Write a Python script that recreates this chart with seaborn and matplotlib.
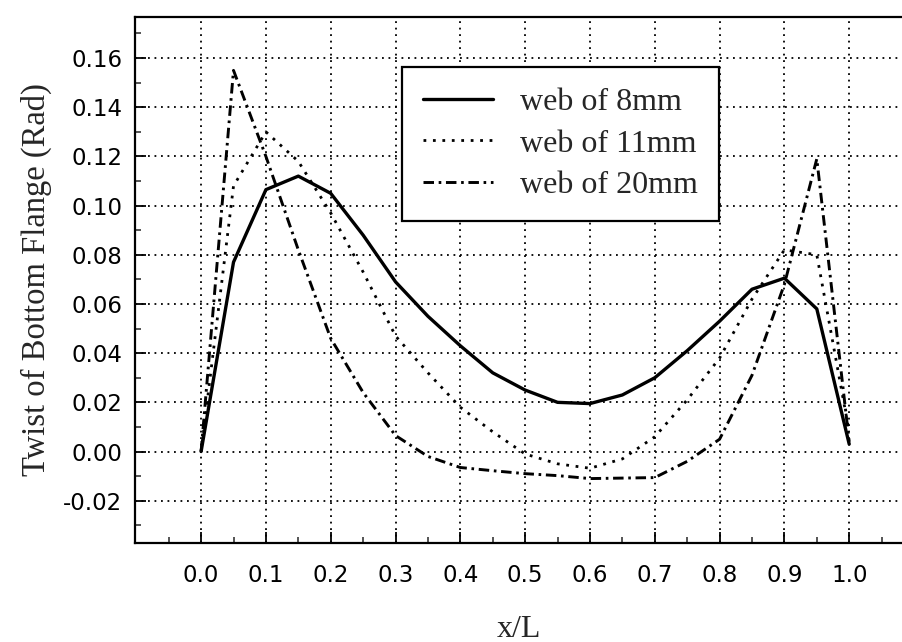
import numpy as np
import pandas as pd
import matplotlib
matplotlib.use("Agg")
import matplotlib.pyplot as plt
import seaborn as sns
from matplotlib.ticker import FixedLocator

# ---- data ----
x_over_L = [0.0, 0.05, 0.10, 0.15, 0.20, 0.25, 0.30, 0.35, 0.40, 0.45, 0.50,
            0.55, 0.60, 0.65, 0.70, 0.75, 0.80, 0.85, 0.90, 0.95, 1.00]
web_8mm = [0.0, 0.077, 0.1065, 0.112, 0.105, 0.088, 0.069, 0.055, 0.043, 0.032, 0.025,
           0.020, 0.0195, 0.023, 0.030, 0.041, 0.053, 0.066, 0.0705, 0.058, 0.003]
web_11mm = [0.0, 0.108, 0.130, 0.118, 0.097, 0.073, 0.047, 0.032, 0.018, 0.008, -0.001,
            -0.005, -0.0068, -0.003, 0.006, 0.021, 0.038, 0.062, 0.082, 0.080, 0.008]
web_20mm = [0.0, 0.155, 0.120, 0.082, 0.046, 0.024, 0.0065, -0.002, -0.0065, -0.0078, -0.009,
            -0.0098, -0.011, -0.0108, -0.0106, -0.004, 0.005, 0.031, 0.068, 0.119, 0.004]
series_names = ["web of 8mm", "web of 11mm", "web of 20mm"]
x_ticks = [0.0, 0.1, 0.2, 0.3, 0.4, 0.5, 0.6, 0.7, 0.8, 0.9, 1.0]
y_ticks = [-0.02, 0.00, 0.02, 0.04, 0.06, 0.08, 0.10, 0.12, 0.14, 0.16]

df = pd.concat([
    pd.DataFrame({"x": x_over_L, "y": vals, "series": name})
    for name, vals in zip(series_names, [web_8mm, web_11mm, web_20mm])
], ignore_index=True)

sns.set_style("white")
plt.rcParams["font.family"] = ["DejaVu Sans"]

fig = plt.figure(figsize=(9.03, 6.42), dpi=100)
ax = fig.add_axes([0.1495, 0.1542, 0.8505, 0.8193])

dashes = {"web of 8mm": "", "web of 11mm": (1, 2.4), "web of 20mm": (3.6, 1.6, 0.9, 1.6)}
widths = {"web of 8mm": 2.4, "web of 11mm": 2.0, "web of 20mm": 2.1}
sns.lineplot(data=df, x="x", y="y", style="series", style_order=series_names,
             dashes=dashes, color="black", linewidth=2.0, ax=ax, sort=False)

for line, name in zip(ax.get_lines()[:3], series_names):
    line.set_linewidth(widths[name])

ax.set_xlim(-0.102, 1.083)
ax.set_ylim(-0.0372, 0.1767)
ax.xaxis.set_major_locator(FixedLocator(x_ticks))
ax.xaxis.set_minor_locator(FixedLocator(np.round(np.arange(-0.05, 1.1, 0.1), 3)))
ax.yaxis.set_major_locator(FixedLocator(y_ticks))
ax.yaxis.set_minor_locator(FixedLocator(np.round(np.arange(-0.03, 0.175, 0.02), 3)))
ax.set_xticklabels([f"{v:.1f}" for v in x_ticks])
ax.set_yticklabels([f"{v:.2f}" for v in y_ticks])

ax.tick_params(which="major", direction="in", length=8, width=1.3, colors="black",
               labelsize=16.5, bottom=True, left=True)
ax.tick_params(which="minor", direction="in", length=4, width=1.1, bottom=True, left=True)
ax.tick_params(axis="x", which="major", pad=15)
ax.tick_params(axis="y", which="major", pad=9)

ax.grid(True, which="major", color="black", linestyle=(0, (1, 2.6)), linewidth=1.3)

for side in ["left", "bottom", "top"]:
    ax.spines[side].set_color("black")
    ax.spines[side].set_linewidth(1.6)
ax.spines["right"].set_visible(False)

serif = ["Liberation Serif", "DejaVu Serif"]
ax.set_xlabel("x/L", family=serif, fontsize=23, labelpad=20)
ax.set_ylabel("Twist of Bottom Flange (Rad)", family=serif, fontsize=23.5, labelpad=8)

handles, labels = ax.get_legend_handles_labels()
hmap = dict(zip(labels, handles))
hs = [hmap[n] for n in series_names]
for h, n in zip(hs, series_names):
    h.set_linewidth(widths[n])
    h.set_color("black")
leg = ax.legend(hs, series_names, loc="upper left", bbox_to_anchor=(0.3477, 0.905),
                borderaxespad=0, frameon=True, fancybox=False, shadow=False,
                prop={"family": serif, "size": 23}, handlelength=2.2, handletextpad=0.85,
                labelspacing=0.38, borderpad=0.65, framealpha=1)
leg.get_frame().set_edgecolor("black")
leg.get_frame().set_linewidth(1.6)

fig.savefig("out.png", dpi=100)
